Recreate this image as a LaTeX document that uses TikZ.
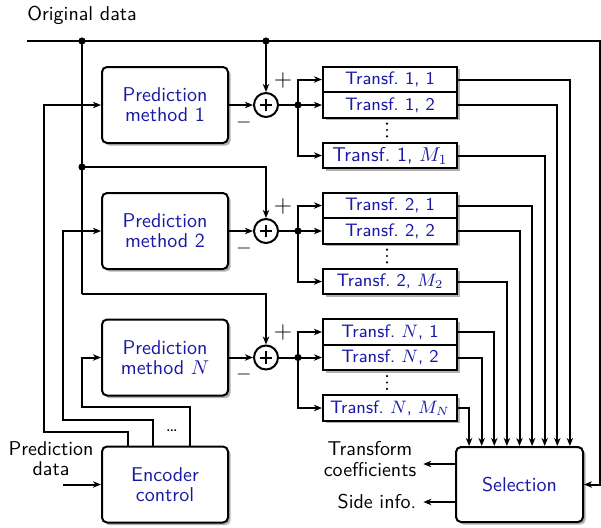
\documentclass[tikz,border=0pt]{standalone}
\usetikzlibrary{arrows.meta,shadows}
\renewcommand{\familydefault}{\sfdefault}
\definecolor{txtblue}{RGB}{25,25,165}

\tikzset{
  wire/.style={line width=1pt},
  arr/.style={wire,-{Stealth[length=4pt,width=3.2pt,inset=1.2pt]}},
  shd/.style={drop shadow={shadow xshift=1.3pt,shadow yshift=-1.3pt,fill=black!30,opacity=1}},
  blk/.style={draw,line width=1pt,rounded corners=2.5pt,fill=white,text=txtblue,align=center,
    minimum width=63pt,minimum height=38pt,inner sep=1pt,font=\linespread{0.84}\selectfont,shd},
  trf/.style={draw,line width=1pt,fill=white,text=txtblue,font=\small,
    minimum width=67pt,minimum height=12.75pt,inner sep=0pt,shd},
  sum/.style={circle,draw,line width=1pt,fill=white,minimum size=12pt,inner sep=0pt,
    path picture={\draw[line width=1pt]
      ([xshift=-3.2pt]path picture bounding box.center) -- ([xshift=3.2pt]path picture bounding box.center)
      ([yshift=-3.2pt]path picture bounding box.center) -- ([yshift=3.2pt]path picture bounding box.center);}},
  junc/.style={circle,fill,inner sep=0pt,minimum size=3.6pt},
  sgn/.style={inner sep=0pt},
  lbl/.style={align=center,font=\linespread{0.84}\selectfont},
  vdot/.style={fill,radius=0.6pt},
}

\begin{document}
\begin{tikzpicture}[x=0.5pt,y=-0.5pt]
\useasboundingbox (0,0) rectangle (601,527);

%Text: input
\node[anchor=west,inner sep=0pt] (orig) at (27,15) {Original data};

%Shape: Prediction blocks
\node[blk] (pred1) at (165,105) {Prediction\\method 1};
\node[blk] (pred2) at (165,231) {Prediction\\method 2};
\node[blk] (predN) at (165,357.5) {Prediction\\method $N$};

%Shape: Encoder control and selection
\node[blk] (enc) at (165,484.5) {Encoder\\control};
\node[blk,minimum width=63.5pt,minimum height=37.5pt] (sel) at (519.5,484.5) {Selection};

%Shape: Adders
\node[sum] (sum1) at (266,105) {};
\node[sum] (sum2) at (266,231) {};
\node[sum] (sumN) at (266,357.5) {};

\node[sgn,font=\large] (pl1) at (283,80) {$+$};
\node[sgn] (mi1) at (244,122) {$-$};
\node[sgn,font=\large] (pl2) at (283,206) {$+$};
\node[sgn] (mi2) at (244,248) {$-$};
\node[sgn,font=\large] (plN) at (283,332.5) {$+$};
\node[sgn] (miN) at (244,374.5) {$-$};

%Shape: Transform blocks
\node[trf] (t11) at (390,79.5) {Transf.\ 1, 1};
\node[trf] (t12) at (390,105) {Transf.\ 1, 2};
\node[trf,font=\normalsize] (t1M) at (390,155.5) {Transf.\ 1, $M_1$};

\node[trf] (t21) at (390,205.5) {Transf.\ 2, 1};
\node[trf] (t22) at (390,231) {Transf.\ 2, 2};
\node[trf] (t2M) at (390,281.5) {Transf.\ 2, $M_2$};

\node[trf] (tN1) at (390,332) {Transf.\ $N$, 1};
\node[trf] (tN2) at (390,357.5) {Transf.\ $N$, 2};
\node[trf] (tNM) at (390,408) {Transf.\ $N$, $M_N$};

%Dots between transforms
\coordinate (v1) at (387,130);
\coordinate (v2) at (387,256);
\coordinate (vN) at (387,382.5);
\fill[vdot] ([yshift=3.2pt]v1) circle[] (v1) circle[] ([yshift=-3.2pt]v1) circle[];
\fill[vdot] ([yshift=3.2pt]v2) circle[] (v2) circle[] ([yshift=-3.2pt]v2) circle[];
\fill[vdot] ([yshift=3.2pt]vN) circle[] (vN) circle[] ([yshift=-3.2pt]vN) circle[];

%Junctions
\coordinate (src) at (27,41);
\coordinate (ne) at (600,41);
\node[junc] (j1) at (82,41) {};
\node[junc] (j2) at (266,41) {};
\node[junc] (j3) at (82,167) {};
\coordinate (j4) at (82,294);
\node[junc] (d1) at (298,105) {};
\node[junc] (d2) at (298,231) {};
\node[junc] (dN) at (298,357.5) {};

%Straight Lines: original data
\draw[arr] (src) -- (ne) |- (sel.east);
\draw[arr] (j2.center) -- (sum1.north);
\draw[wire] (j1.center) -- (j4);
\draw[arr] (j3.center) -| (sum2.north);
\draw[arr] (j4) -| (sumN.north);

%Straight Lines: prediction to adders
\draw[arr] (pred1.east) -- (sum1.west);
\draw[arr] (pred2.east) -- (sum2.west);
\draw[arr] (predN.east) -- (sumN.west);

%Straight Lines: adders to transforms
\draw[wire] (sum1.east) -- (d1.center);
\draw[arr] (d1.center) |- (t11.west);
\draw[arr] (d1.center) -- (t12.west);
\draw[arr] (d1.center) |- (t1M.west);

\draw[wire] (sum2.east) -- (d2.center);
\draw[arr] (d2.center) |- (t21.west);
\draw[arr] (d2.center) -- (t22.west);
\draw[arr] (d2.center) |- (t2M.west);

\draw[wire] (sumN.east) -- (dN.center);
\draw[arr] (dN.center) |- (tN1.west);
\draw[arr] (dN.center) -- (tN2.west);
\draw[arr] (dN.center) |- (tNM.west);

%Straight Lines: transforms to selection
\draw[arr] (t11.east) -| ([xshift=25.2pt]sel.north);
\draw[arr] (t12.east) -| ([xshift=18.9pt]sel.north);
\draw[arr] (t1M.east) -| ([xshift=12.6pt]sel.north);
\draw[arr] (t21.east) -| ([xshift=6.3pt]sel.north);
\draw[arr] (t22.east) -| (sel.north);
\draw[arr] (t2M.east) -| ([xshift=-6.3pt]sel.north);
\draw[arr] (tN1.east) -| ([xshift=-12.6pt]sel.north);
\draw[arr] (tN2.east) -| ([xshift=-18.9pt]sel.north);
\draw[arr] (tNM.east) -| ([xshift=-25.2pt]sel.north);

%Straight Lines: encoder feedback
\draw[arr] ([xshift=-18.5pt]enc.north) -- ++(0,-14) -| ([xshift=-28.5pt]pred1.west) -- (pred1.west);
\draw[arr] ([xshift=-6pt]enc.north) -- ++(0,-26) -| ([xshift=-19pt]pred2.west) -- (pred2.west);
\draw[arr] ([xshift=12.5pt]enc.north) -- ++(0,-39) -| ([xshift=-9.5pt]predN.west) -- (predN.west);
\node[sgn] (etc) at (172,431) {\dots};

%Text: side labels
\node[lbl] (pdat) at (51,459) {Prediction\\data};
\draw[arr] ([xshift=-19pt]enc.west) -- (enc.west);

\node[lbl] (coef) at (370,459) {Transform\\coefficients};
\node[lbl] (side) at (377,502) {Side info.};
\draw[arr] ([yshift=10.25pt]sel.west) -- ([yshift=10.25pt]sel.west -| coef.east);
\draw[arr] ([yshift=-8.75pt]sel.west) -- ([yshift=-8.75pt]sel.west -| side.east);

\end{tikzpicture}
\end{document}
